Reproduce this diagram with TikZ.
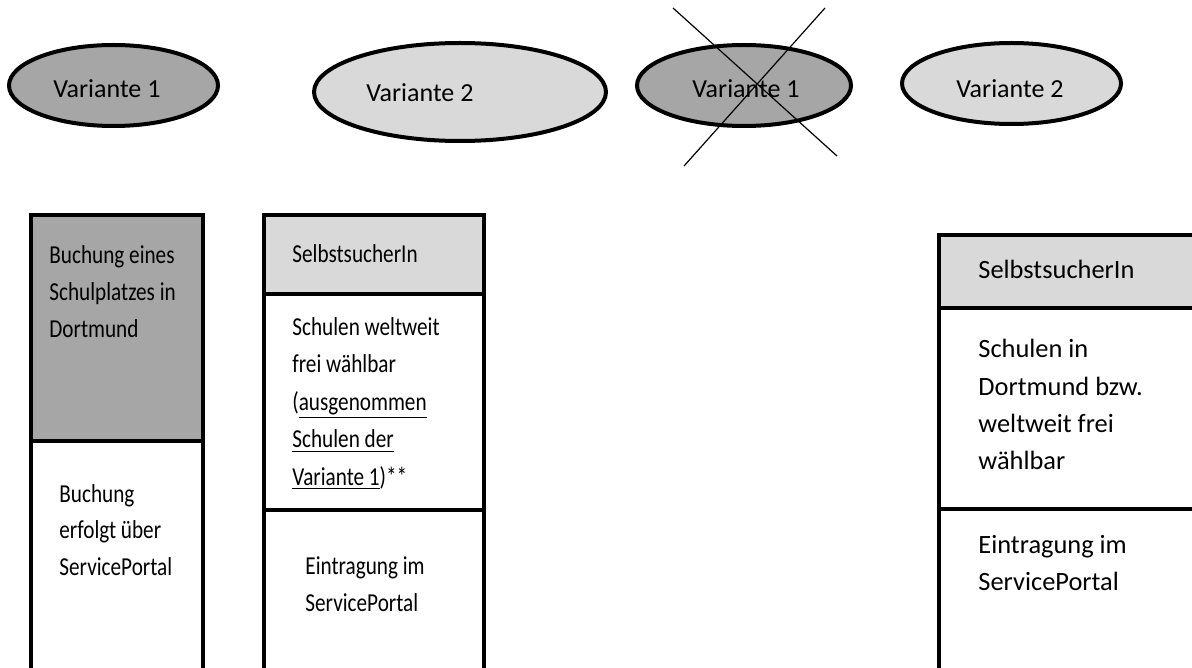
\documentclass[tikz,border=0pt]{standalone}
\usepackage{fontspec}
\setmainfont{Carlito}
\usetikzlibrary{shapes.geometric}
\definecolor{darkfill}{HTML}{A6A6A6}
\definecolor{lightfill}{HTML}{D9D9D9}
\newcommand{\tallline}[1]{\scalebox{1}[1.22]{#1}}
\begin{document}
\begin{tikzpicture}[x=0.5pt,y=-0.5pt,
  oval/.style={ellipse,draw,line width=2pt,inner sep=0pt},
  part/.style={rectangle,draw,line width=2pt,inner sep=0pt,anchor=north west},
  ovaltext/.style={anchor=base west,inner sep=0pt,font=\fontsize{13}{15}\selectfont},
  smalltext/.style={anchor=base west,inner sep=0pt,font=\fontsize{10.6}{13}\selectfont},
  bigtext/.style={anchor=base west,inner sep=0pt,font=\fontsize{13.2}{16}\selectfont},
  crossline/.style={line width=0.6pt}]
\useasboundingbox (0,0) rectangle (1192,668);
\clip (0,0) rectangle (1192,668);
\fill[white] (0,0) rectangle (1192,668);

% ovals
\node[oval,fill=darkfill,minimum width=104.5pt,minimum height=40.5pt] (e1) at (113.5,85.5) {};
\node[ovaltext] (t1) at (53,98) {Variante 1};
\node[oval,fill=lightfill,minimum width=146pt,minimum height=49pt] (e2) at (460,92) {};
\node[ovaltext] (t2) at (366,102) {Variante 2};
\node[oval,fill=darkfill,minimum width=107pt,minimum height=40.5pt] (e3) at (744,85.5) {};
\node[ovaltext] (t3) at (692,98) {Variante 1};
\node[oval,fill=lightfill,minimum width=109.5pt,minimum height=40.5pt] (e4) at (1011.5,83.5) {};
\node[ovaltext] (t4) at (956,98) {Variante 2};

% cross over oval 3
\coordinate (c1a) at (673,8);
\coordinate (c1b) at (837,156);
\coordinate (c2a) at (825,8);
\coordinate (c2b) at (684,166);
\draw[crossline] (c1a) -- (c1b);
\draw[crossline] (c2a) -- (c2b);

% left box
\node[part,fill=white,minimum width=86pt,minimum height=140pt] (b1bot) at (29,439) {};
\node[part,fill=darkfill,minimum width=86pt,minimum height=113pt] (b1top) at (29,213) {};
\node[smalltext] (l1a) at (49,263) {\tallline{Buchung eines}};
\node[smalltext] (l1b) at (49,300) {\tallline{Schulplatzes in}};
\node[smalltext] (l1c) at (49,337) {\tallline{Dortmund}};
\node[smalltext] (l1d) at (59,502) {\tallline{Buchung}};
\node[smalltext] (l1e) at (59,538.5) {\tallline{erfolgt über}};
\node[smalltext] (l1f) at (59,575) {\tallline{ServicePortal}};

% middle box
\node[part,fill=white,minimum width=110pt,minimum height=100pt] (b2bot) at (262,508) {};
\node[part,fill=white,minimum width=110pt,minimum height=108pt] (b2mid) at (262,292) {};
\node[part,fill=lightfill,minimum width=110pt,minimum height=39.5pt] (b2top) at (262,213) {};
\node[smalltext] (m1) at (292,262) {\tallline{SelbstsucherIn}};
\node[smalltext] (m2) at (292,335) {\tallline{Schulen weltweit}};
\node[smalltext] (m3) at (292,372.5) {\tallline{frei wählbar}};
\node[smalltext] (m4) at (292,410) {\tallline{(\underline{ausgenommen}}};
\node[smalltext] (m5) at (292,447.5) {\tallline{\underline{Schulen der}}};
\node[smalltext] (m6) at (292,485) {\tallline{\underline{Variante 1})**}};
\node[smalltext] (m7) at (305,574) {\tallline{Eintragung im}};
\node[smalltext] (m8) at (305,611) {\tallline{ServicePortal}};

% right box
\node[part,fill=white,minimum width=160pt,minimum height=100pt] (b3bot) at (937,507) {};
\node[part,fill=white,minimum width=160pt,minimum height=100.5pt] (b3mid) at (937,306) {};
\node[part,fill=lightfill,minimum width=160pt,minimum height=36.5pt] (b3top) at (937,233) {};
\node[bigtext] (r1) at (978,278) {SelbstsucherIn};
\node[bigtext] (r2) at (978,357) {Schulen in};
\node[bigtext] (r3) at (978,395) {Dortmund bzw.};
\node[bigtext] (r4) at (978,432) {weltweit frei};
\node[bigtext] (r5) at (978,469) {wählbar};
\node[bigtext] (r6) at (978,553) {Eintragung im};
\node[bigtext] (r7) at (978,590) {ServicePortal};
\end{tikzpicture}
\end{document}
